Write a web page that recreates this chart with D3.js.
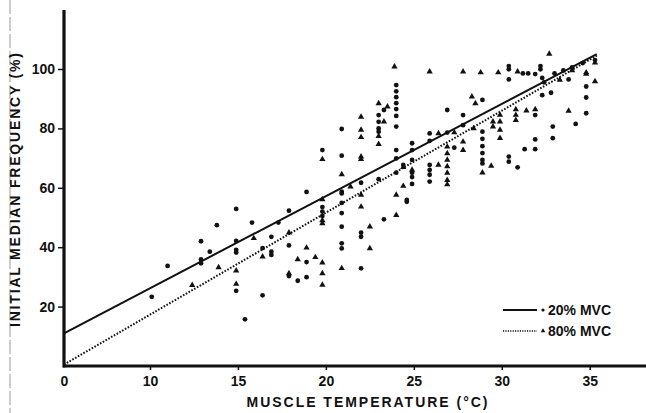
<!DOCTYPE html>
<html lang="en">
<head>
<meta charset="utf-8">
<script src="https://d3js.org/d3.v7.min.js"></script>
<style>
  body { margin: 0; background: #fff; }
  svg { display: block; }
  text { font-family: "Liberation Sans", Arial, sans-serif; font-weight: bold; fill: #111; }
</style>
</head>
<body>
<script>
// 20% MVC (dots): [muscle temperature (°C), initial median frequency (%)]
var dots20 = [
  [10.1,23.3],[11.0,33.7],[12.9,42.0],[12.9,35.9],[12.9,34.6],[13.4,38.5],[13.8,47.4],
  [14.9,52.9],[14.9,42.1],[14.9,39.1],[14.9,38.2],[14.9,25.3],[15.4,15.7],[15.8,48.3],
  [16.4,39.7],[16.4,23.8],[16.9,43.5],[16.9,38.5],[16.9,37.4],[17.3,48.3],[17.9,52.3],
  [17.9,40.6],[17.9,30.3],[18.4,28.7],[18.9,35.0],[18.9,29.9],[18.9,58.6],[19.8,72.7],
  [19.8,53.5],[19.8,52.0],[19.8,50.5],[20.9,79.8],[20.9,70.8],[20.9,58.7],[20.9,58.1],
  [20.9,54.9],[20.9,51.5],[20.9,46.9],[20.9,41.3],[20.9,39.6],[22.0,61.7],[22.0,44.9],
  [22.0,43.5],[22.0,32.9],[23.0,84.5],[23.0,82.2],[23.0,80.0],[23.0,78.9],[23.3,86.2],
  [23.0,62.9],[23.3,49.4],[24.0,94.6],[24.0,92.5],[24.0,90.5],[24.0,88.5],[24.0,86.5],
  [24.0,84.2],[24.0,80.6],[24.0,72.7],[24.0,69.9],[24.0,65.1],[24.4,67.7],[24.6,55.3],
  [24.6,55.9],[24.9,75.0],[24.9,72.7],[24.9,69.4],[24.9,65.1],[24.9,63.6],[24.9,61.3],
  [25.9,78.3],[25.9,75.8],[25.9,67.7],[25.9,66.0],[25.9,64.4],[25.9,62.1],[26.9,86.2],
  [26.9,78.6],[27.3,73.5],[27.8,84.5],[27.8,81.1],[28.9,89.6],[28.9,78.9],[28.9,76.5],
  [28.9,74.0],[28.9,71.7],[28.9,69.4],[28.9,68.2],[30.4,101.0],[30.4,99.9],[30.4,96.5],
  [30.4,70.5],[30.4,68.8],[30.9,66.9],[31.2,98.5],[31.5,98.5],[31.9,98.3],[31.9,76.3],
  [31.3,73.0],[31.9,73.0],[31.9,84.5],[32.2,101.0],[32.2,99.9],[32.3,97.0],[32.4,95.5],
  [32.3,91.2],[32.8,92.0],[32.9,80.6],[32.9,76.7],[33.0,98.5],[33.5,99.5],[34.0,100.5],
  [34.6,102.0],[33.8,96.5],[34.2,81.5],[34.8,94.1],[34.8,90.4],[34.8,85.1],[35.3,103.0]
];
// 80% MVC (triangles)
var tris80 = [
  [12.4,27.2],[13.9,33.2],[14.9,32.1],[14.9,27.6],[15.9,43.0],[16.4,36.8],[17.9,44.9],
  [17.9,31.2],[18.4,35.9],[18.9,39.8],[19.4,36.6],[19.8,34.8],[19.8,31.2],[19.8,27.3],
  [19.8,69.6],[19.8,56.1],[19.8,49.0],[19.8,48.0],[20.9,64.5],[20.9,32.9],[21.4,60.4],
  [22.0,83.9],[22.0,79.5],[22.0,77.0],[22.0,70.5],[22.0,69.6],[22.0,57.6],[22.0,53.6],
  [22.5,46.9],[22.5,39.6],[23.0,88.4],[23.5,87.3],[23.3,82.3],[23.0,77.4],[23.0,74.7],
  [23.9,100.8],[24.0,57.6],[24.4,60.6],[24.0,50.8],[24.4,66.9],[24.9,66.0],[25.9,99.1],
  [26.4,67.7],[26.4,78.3],[26.9,73.8],[26.9,71.6],[26.9,69.4],[26.9,67.2],[26.9,65.0],
  [26.9,62.6],[26.9,61.1],[27.3,78.6],[27.8,99.1],[27.8,75.5],[27.8,72.7],[28.3,90.7],
  [28.4,80.0],[28.5,88.4],[28.8,98.8],[28.9,65.1],[29.4,67.4],[29.5,82.3],[29.5,80.6],
  [29.8,98.8],[29.9,84.5],[29.9,82.3],[29.9,79.5],[29.9,76.7],[30.8,86.4],[30.8,84.5],
  [30.8,82.8],[30.9,99.1],[31.4,86.0],[31.9,86.4],[32.7,105.1],[33.3,96.3],[33.8,85.9],
  [34.8,98.8],[34.8,98.3],[35.3,102.1],[35.3,95.8],[34.0,99.5]
];
var xTicks = [0, 10, 15, 20, 25, 30, 35];
var yTicks = [20, 40, 60, 80, 100];
// regression lines, end points [temp, freq]
var line20 = [[0, 11], [35.4, 105]];
var line80 = [[0, 0.5], [35.4, 104.5]];
var legendLabels = ["20% MVC", "80% MVC"];

var width = 646, height = 413;

var svg = d3.select("body").append("svg")
    .attr("width", width)
    .attr("height", height);

// axis is compressed between 0 and 10
var x = d3.scaleLinear().domain([0, 10, 38.2]).range([64, 150, 646]);
var y = d3.scaleLinear().domain([0, 100]).range([366, 69]);

// faint scan edge on the left
svg.append("line")
    .attr("x1", 10).attr("x2", 10)
    .attr("y1", 0).attr("y2", height)
    .attr("stroke", "#999").attr("stroke-width", 1)
    .attr("stroke-dasharray", "14,3");

// x axis
var xAxis = svg.append("g")
    .attr("transform", "translate(0,366)")
    .call(d3.axisBottom(x).tickValues(xTicks).tickSize(4).tickPadding(6).tickSizeOuter(0));
xAxis.select(".domain").remove();
xAxis.selectAll(".tick line").attr("stroke", "#111").attr("stroke-width", 1.5);
xAxis.selectAll(".tick text").attr("font-size", 14).attr("dy", "0.72em");
xAxis.selectAll(".tick").filter(function(d) { return d === 0; }).select("line").remove();
svg.append("line")
    .attr("x1", 63).attr("x2", width)
    .attr("y1", 366).attr("y2", 366)
    .attr("stroke", "#111").attr("stroke-width", 3.2);

// y axis
var yAxis = svg.append("g")
    .attr("transform", "translate(64,0)")
    .call(d3.axisLeft(y).tickValues(yTicks).tickSize(6).tickPadding(3).tickSizeOuter(0));
yAxis.select(".domain").remove();
yAxis.selectAll(".tick line").attr("stroke", "#111").attr("stroke-width", 1.5);
yAxis.selectAll(".tick text").attr("font-size", 14);
svg.append("line")
    .attr("x1", 64).attr("x2", 64)
    .attr("y1", 10).attr("y2", 367.5)
    .attr("stroke", "#111").attr("stroke-width", 3.2);

// axis titles
svg.append("text")
    .attr("transform", "translate(20,190) rotate(-90)")
    .attr("text-anchor", "middle")
    .attr("font-size", 14)
    .attr("textLength", 274)
    .text("INITIAL MEDIAN FREQUENCY (%)");

svg.append("text")
    .attr("x", 367).attr("y", 407)
    .attr("text-anchor", "middle")
    .attr("font-size", 14)
    .attr("textLength", 241)
    .text("MUSCLE TEMPERATURE (\u00B0C)");

// regression lines
var lineGen = d3.line()
    .x(function(d) { return x(d[0]); })
    .y(function(d) { return y(d[1]); });

svg.append("path")
    .datum(line80)
    .attr("d", lineGen)
    .attr("fill", "none")
    .attr("stroke", "#111")
    .attr("stroke-width", 2)
    .attr("stroke-dasharray", "1.6,1.6");

svg.append("path")
    .datum(line20)
    .attr("d", lineGen)
    .attr("fill", "none")
    .attr("stroke", "#111")
    .attr("stroke-width", 2);

// data points
svg.append("g").selectAll("circle")
    .data(dots20)
    .enter().append("circle")
    .attr("cx", function(d) { return x(d[0]); })
    .attr("cy", function(d) { return y(d[1]); })
    .attr("r", 2.4)
    .attr("fill", "#111");

var tri = d3.symbol().type(d3.symbolTriangle).size(17);
svg.append("g").selectAll("path")
    .data(tris80)
    .enter().append("path")
    .attr("transform", function(d) { return "translate(" + x(d[0]) + "," + y(d[1]) + ")"; })
    .attr("d", tri)
    .attr("fill", "#111");

// legend
var legend = svg.append("g");
var rows = [310, 331];
legend.selectAll("line")
    .data(legendLabels)
    .enter().append("line")
    .attr("x1", 503).attr("x2", 537)
    .attr("y1", function(d, i) { return rows[i]; })
    .attr("y2", function(d, i) { return rows[i]; })
    .attr("stroke", "#111")
    .attr("stroke-width", function(d, i) { return i === 0 ? 2 : 1.5; })
    .attr("stroke-dasharray", function(d, i) { return i === 0 ? null : "1.2,1.2"; });
legend.append("circle").attr("cx", 543).attr("cy", rows[0]).attr("r", 1.6).attr("fill", "#111");
legend.append("path")
    .attr("transform", "translate(543," + rows[1] + ")")
    .attr("d", d3.symbol().type(d3.symbolTriangle).size(9))
    .attr("fill", "#111");
legend.selectAll("text")
    .data(legendLabels)
    .enter().append("text")
    .attr("x", 548)
    .attr("y", function(d, i) { return rows[i] + 5; })
    .attr("font-size", 14)
    .text(function(d) { return d; });
</script>
</body>
</html>
